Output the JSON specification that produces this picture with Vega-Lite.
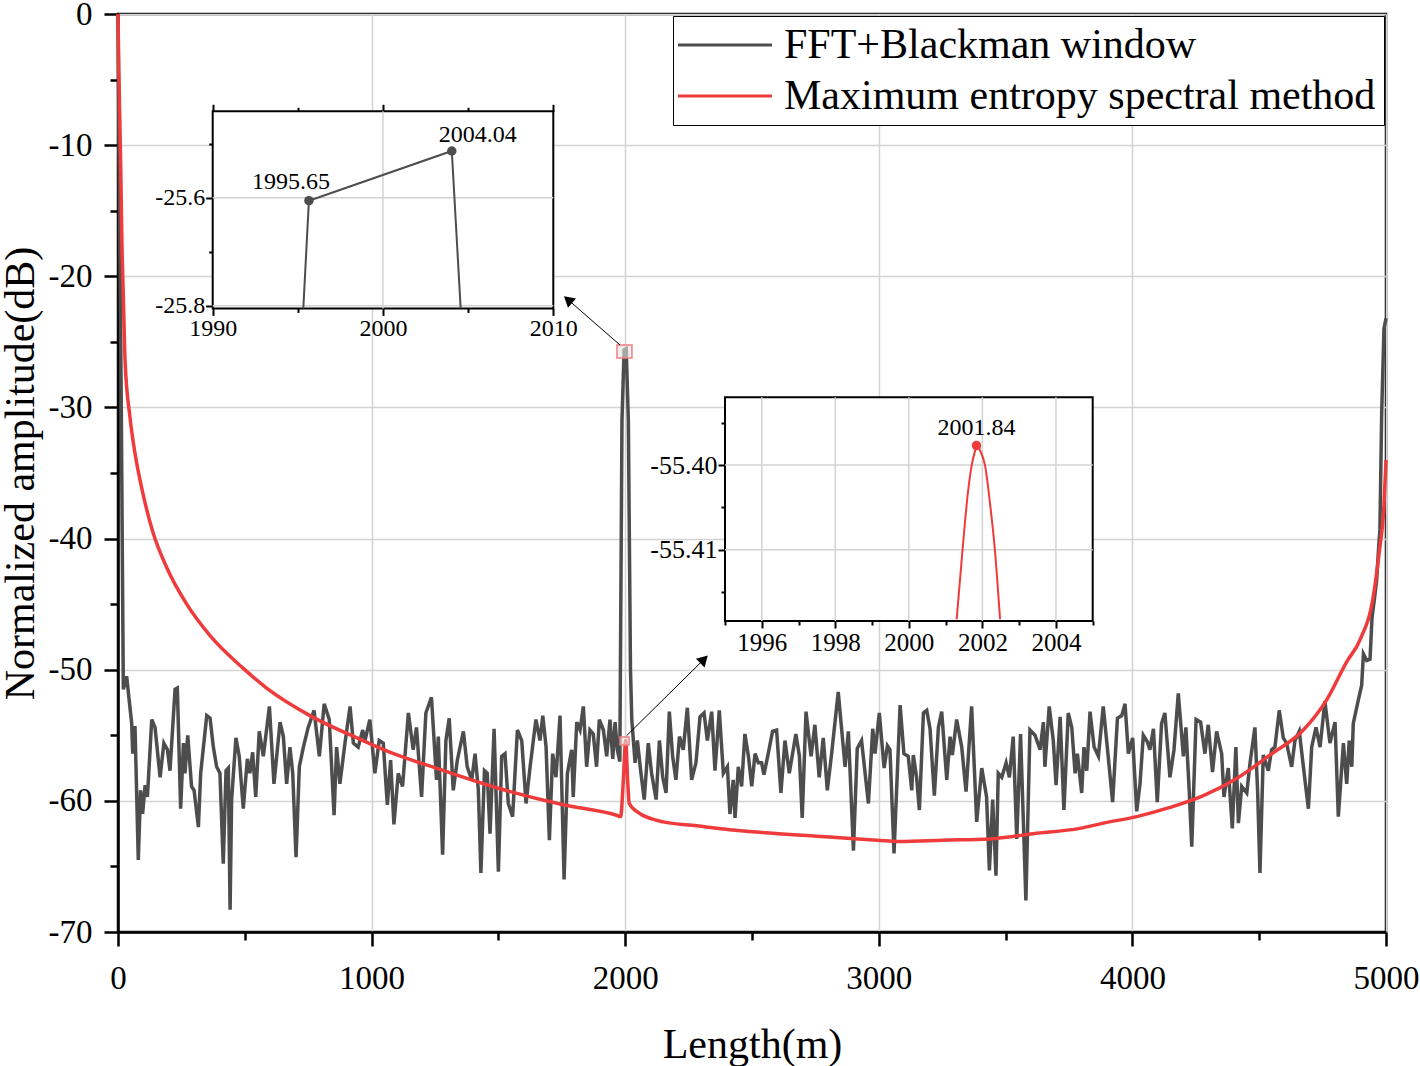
{
  "$schema": "https://vega.github.io/schema/vega-lite/v6.json",
  "width": 1268,
  "height": 918,
  "autosize": "none",
  "padding": {"left": 118, "top": 14, "right": 34, "bottom": 134},
  "background": "white",
  "datasets": {
    "fft": [
      {"x":0,"y":0},{"x":4,"y":-10},{"x":8,"y":-19},{"x":13,"y":-30},{"x":17,"y":-41},{"x":21,"y":-51.5},{"x":34,"y":-50.5},{"x":54,"y":-54.1},{"x":58,"y":-56.4},{"x":67,"y":-54.3},{"x":80,"y":-64.5},{"x":89,"y":-59.2},{"x":97,"y":-61.0},{"x":107,"y":-58.8},{"x":116,"y":-59.7},{"x":133,"y":-53.8},{"x":146,"y":-54.4},{"x":166,"y":-58.2},{"x":181,"y":-55.6},{"x":195,"y":-56.1},{"x":205,"y":-57.7},{"x":225,"y":-51.5},{"x":234,"y":-51.4},{"x":247,"y":-60.6},{"x":258,"y":-55.6},{"x":264,"y":-57.9},{"x":275,"y":-55.0},{"x":290,"y":-58.9},{"x":300,"y":-59.2},{"x":317,"y":-62.0},{"x":326,"y":-57.9},{"x":350,"y":-53.5},{"x":363,"y":-53.7},{"x":376,"y":-55.9},{"x":389,"y":-57.4},{"x":402,"y":-57.9},{"x":415,"y":-64.8},{"x":426,"y":-57.7},{"x":435,"y":-57.5},{"x":442,"y":-68.3},{"x":448,"y":-59.9},{"x":465,"y":-55.2},{"x":478,"y":-56.6},{"x":494,"y":-60.6},{"x":510,"y":-56.8},{"x":520,"y":-57.9},{"x":531,"y":-56.3},{"x":543,"y":-59.7},{"x":557,"y":-54.7},{"x":573,"y":-56.6},{"x":597,"y":-52.8},{"x":615,"y":-58.7},{"x":639,"y":-54.0},{"x":652,"y":-55.1},{"x":665,"y":-58.7},{"x":678,"y":-55.9},{"x":689,"y":-57.9},{"x":702,"y":-64.3},{"x":715,"y":-57.4},{"x":731,"y":-55.9},{"x":750,"y":-54.4},{"x":773,"y":-53.1},{"x":794,"y":-56.6},{"x":813,"y":-52.6},{"x":833,"y":-53.8},{"x":852,"y":-61.1},{"x":862,"y":-55.9},{"x":875,"y":-58.7},{"x":895,"y":-55.6},{"x":915,"y":-52.8},{"x":928,"y":-55.6},{"x":947,"y":-55.9},{"x":965,"y":-54.6},{"x":974,"y":-55.4},{"x":993,"y":-53.8},{"x":1013,"y":-57.9},{"x":1030,"y":-55.4},{"x":1046,"y":-55.6},{"x":1062,"y":-60.3},{"x":1075,"y":-56.9},{"x":1088,"y":-61.8},{"x":1105,"y":-57.9},{"x":1122,"y":-58.9},{"x":1145,"y":-53.3},{"x":1164,"y":-56.1},{"x":1177,"y":-54.4},{"x":1197,"y":-59.7},{"x":1214,"y":-53.3},{"x":1236,"y":-52.1},{"x":1256,"y":-58.4},{"x":1263,"y":-55.1},{"x":1280,"y":-64.1},{"x":1293,"y":-55.4},{"x":1306,"y":-53.7},{"x":1322,"y":-59.2},{"x":1338,"y":-56.9},{"x":1362,"y":-54.7},{"x":1377,"y":-57.4},{"x":1395,"y":-58.4},{"x":1408,"y":-56.4},{"x":1421,"y":-59.2},{"x":1431,"y":-65.5},{"x":1445,"y":-57.7},{"x":1456,"y":-57.9},{"x":1467,"y":-62.5},{"x":1483,"y":-54.5},{"x":1500,"y":-65.4},{"x":1513,"y":-56.6},{"x":1526,"y":-56.4},{"x":1539,"y":-60.2},{"x":1556,"y":-61.2},{"x":1575,"y":-54.6},{"x":1592,"y":-55.4},{"x":1609,"y":-60.2},{"x":1625,"y":-57.4},{"x":1648,"y":-53.8},{"x":1664,"y":-55.4},{"x":1675,"y":-53.5},{"x":1688,"y":-55.9},{"x":1701,"y":-63.0},{"x":1714,"y":-56.4},{"x":1727,"y":-58.2},{"x":1743,"y":-53.5},{"x":1759,"y":-66.0},{"x":1772,"y":-57.9},{"x":1789,"y":-56.1},{"x":1795,"y":-59.7},{"x":1809,"y":-54.0},{"x":1822,"y":-54.6},{"x":1835,"y":-52.8},{"x":1848,"y":-57.4},{"x":1861,"y":-54.6},{"x":1874,"y":-54.9},{"x":1887,"y":-57.4},{"x":1898,"y":-53.8},{"x":1914,"y":-54.6},{"x":1927,"y":-56.6},{"x":1940,"y":-53.8},{"x":1951,"y":-56.8},{"x":1960,"y":-54.0},{"x":1969,"y":-56.1},{"x":1978.87,"y":-57},{"x":1987.26,"y":-31},{"x":1995.65,"y":-25.6056},{"x":2004.04,"y":-25.5135},{"x":2012.43,"y":-31},{"x":2020.82,"y":-50},{"x":2026,"y":-53.8},{"x":2039,"y":-57.1},{"x":2048,"y":-55.4},{"x":2061,"y":-57.7},{"x":2075,"y":-59.9},{"x":2091,"y":-55.6},{"x":2104,"y":-57.9},{"x":2122,"y":-59.9},{"x":2135,"y":-55.4},{"x":2148,"y":-58.2},{"x":2161,"y":-59.4},{"x":2174,"y":-53.2},{"x":2187,"y":-56.6},{"x":2200,"y":-58.4},{"x":2214,"y":-55.1},{"x":2229,"y":-56.1},{"x":2245,"y":-52.9},{"x":2262,"y":-58.4},{"x":2279,"y":-57.1},{"x":2295,"y":-53.6},{"x":2311,"y":-53.3},{"x":2324,"y":-55.4},{"x":2341,"y":-53.2},{"x":2354,"y":-57.7},{"x":2371,"y":-53.1},{"x":2387,"y":-57.9},{"x":2403,"y":-57.4},{"x":2413,"y":-61.0},{"x":2426,"y":-58.4},{"x":2433,"y":-61.3},{"x":2446,"y":-57.4},{"x":2459,"y":-58.9},{"x":2472,"y":-54.9},{"x":2486,"y":-56.6},{"x":2499,"y":-58.9},{"x":2512,"y":-56.4},{"x":2525,"y":-57.1},{"x":2538,"y":-57.1},{"x":2547,"y":-58.0},{"x":2564,"y":-56.4},{"x":2581,"y":-54.7},{"x":2597,"y":-54.6},{"x":2614,"y":-59.4},{"x":2630,"y":-55.4},{"x":2647,"y":-57.9},{"x":2673,"y":-54.9},{"x":2687,"y":-56.6},{"x":2698,"y":-61.3},{"x":2713,"y":-53.2},{"x":2733,"y":-56.6},{"x":2748,"y":-54.2},{"x":2765,"y":-58.2},{"x":2781,"y":-55.2},{"x":2797,"y":-59.2},{"x":2814,"y":-56.4},{"x":2840,"y":-51.7},{"x":2867,"y":-57.4},{"x":2880,"y":-54.7},{"x":2900,"y":-63.8},{"x":2915,"y":-56.0},{"x":2932,"y":-55.4},{"x":2959,"y":-60.2},{"x":2976,"y":-54.5},{"x":2985,"y":-56.4},{"x":3002,"y":-53.3},{"x":3021,"y":-57.5},{"x":3034,"y":-55.8},{"x":3044,"y":-56.1},{"x":3060,"y":-64.0},{"x":3084,"y":-52.7},{"x":3099,"y":-56.4},{"x":3116,"y":-56.6},{"x":3130,"y":-59.2},{"x":3136,"y":-56.5},{"x":3149,"y":-58.2},{"x":3160,"y":-60.7},{"x":3176,"y":-53.3},{"x":3189,"y":-53.1},{"x":3202,"y":-54.5},{"x":3219,"y":-59.6},{"x":3235,"y":-54.4},{"x":3248,"y":-53.2},{"x":3268,"y":-58.4},{"x":3281,"y":-55.1},{"x":3290,"y":-56.5},{"x":3307,"y":-53.8},{"x":3327,"y":-55.9},{"x":3344,"y":-59.3},{"x":3366,"y":-52.8},{"x":3386,"y":-61.6},{"x":3406,"y":-57.5},{"x":3425,"y":-59.7},{"x":3436,"y":-65.3},{"x":3449,"y":-59.9},{"x":3462,"y":-65.7},{"x":3471,"y":-57.9},{"x":3485,"y":-58.2},{"x":3502,"y":-57.1},{"x":3515,"y":-58.2},{"x":3530,"y":-55.1},{"x":3544,"y":-62.9},{"x":3559,"y":-54.9},{"x":3580,"y":-67.6},{"x":3596,"y":-54.6},{"x":3616,"y":-55.0},{"x":3636,"y":-56.1},{"x":3649,"y":-54.0},{"x":3655,"y":-57.4},{"x":3672,"y":-52.8},{"x":3688,"y":-55.4},{"x":3699,"y":-58.8},{"x":3715,"y":-53.6},{"x":3730,"y":-60.7},{"x":3747,"y":-53.3},{"x":3761,"y":-54.4},{"x":3774,"y":-57.9},{"x":3783,"y":-56.4},{"x":3800,"y":-59.4},{"x":3809,"y":-55.9},{"x":3820,"y":-57.7},{"x":3833,"y":-53.2},{"x":3849,"y":-55.9},{"x":3866,"y":-56.6},{"x":3885,"y":-52.8},{"x":3902,"y":-56.1},{"x":3922,"y":-60.1},{"x":3941,"y":-53.7},{"x":3958,"y":-53.5},{"x":3971,"y":-52.6},{"x":3984,"y":-56.4},{"x":4001,"y":-55.2},{"x":4017,"y":-60.8},{"x":4030,"y":-58.7},{"x":4043,"y":-55.0},{"x":4059,"y":-55.5},{"x":4069,"y":-56.1},{"x":4083,"y":-54.5},{"x":4098,"y":-60.1},{"x":4115,"y":-54.1},{"x":4128,"y":-53.3},{"x":4148,"y":-58.2},{"x":4164,"y":-56.1},{"x":4181,"y":-51.8},{"x":4201,"y":-56.6},{"x":4211,"y":-54.4},{"x":4224,"y":-59.2},{"x":4234,"y":-63.5},{"x":4251,"y":-53.8},{"x":4269,"y":-54.0},{"x":4286,"y":-56.4},{"x":4299,"y":-54.2},{"x":4316,"y":-57.8},{"x":4332,"y":-54.7},{"x":4352,"y":-56.4},{"x":4361,"y":-59.7},{"x":4378,"y":-57.5},{"x":4394,"y":-62.1},{"x":4408,"y":-55.9},{"x":4418,"y":-61.7},{"x":4431,"y":-58.9},{"x":4451,"y":-59.4},{"x":4464,"y":-57.1},{"x":4483,"y":-54.4},{"x":4494,"y":-59.4},{"x":4503,"y":-65.5},{"x":4516,"y":-56.5},{"x":4536,"y":-57.7},{"x":4549,"y":-56.1},{"x":4562,"y":-55.9},{"x":4579,"y":-53.1},{"x":4595,"y":-55.2},{"x":4608,"y":-55.6},{"x":4628,"y":-57.4},{"x":4641,"y":-55.4},{"x":4658,"y":-54.7},{"x":4681,"y":-58.5},{"x":4694,"y":-60.6},{"x":4707,"y":-55.9},{"x":4724,"y":-54.4},{"x":4740,"y":-55.9},{"x":4759,"y":-52.4},{"x":4779,"y":-55.6},{"x":4799,"y":-54.0},{"x":4812,"y":-61.2},{"x":4832,"y":-55.6},{"x":4845,"y":-58.7},{"x":4855,"y":-55.4},{"x":4865,"y":-57.4},{"x":4871,"y":-54.1},{"x":4882,"y":-53.1},{"x":4891,"y":-52.3},{"x":4904,"y":-51.2},{"x":4911,"y":-48.8},{"x":4924,"y":-49.3},{"x":4937,"y":-49.2},{"x":4945,"y":-46},{"x":4953,"y":-44.8},{"x":4963,"y":-43.2},{"x":4970,"y":-41},{"x":4976,"y":-39.3},{"x":4983,"y":-30.4},{"x":4992,"y":-24},{"x":5000,"y":-23.2}
    ],
    "mem": [
      {"x":0,"y":0},{"x":3,"y":-4},{"x":7,"y":-8},{"x":11,"y":-12},{"x":15,"y":-17},{"x":21,"y":-21.5},{"x":28,"y":-26.5},{"x":47,"y":-30.7},{"x":67,"y":-33.5},{"x":93,"y":-36.1},{"x":139,"y":-39.6},{"x":192,"y":-42.2},{"x":271,"y":-45.0},{"x":363,"y":-47.4},{"x":494,"y":-49.9},{"x":586,"y":-51.4},{"x":757,"y":-53.5},{"x":954,"y":-55.3},{"x":1100,"y":-56.5},{"x":1270,"y":-57.6},{"x":1493,"y":-59.0},{"x":1756,"y":-60.3},{"x":1966,"y":-61.1},{"x":1982,"y":-61.2},{"x":1993,"y":-58.3},{"x":2001.84,"y":-55.3977},{"x":2010,"y":-58.6},{"x":2016,"y":-60.2},{"x":2045,"y":-60.8},{"x":2150,"y":-61.6},{"x":2282,"y":-61.9},{"x":2413,"y":-62.2},{"x":2532,"y":-62.4},{"x":2755,"y":-62.7},{"x":2992,"y":-63.0},{"x":3084,"y":-63.1},{"x":3254,"y":-63.0},{"x":3438,"y":-62.9},{"x":3609,"y":-62.5},{"x":3793,"y":-62.1},{"x":3885,"y":-61.7},{"x":4017,"y":-61.2},{"x":4148,"y":-60.5},{"x":4280,"y":-59.6},{"x":4411,"y":-58.3},{"x":4543,"y":-56.5},{"x":4674,"y":-54.6},{"x":4766,"y":-52.3},{"x":4845,"y":-49.4},{"x":4898,"y":-47.7},{"x":4950,"y":-44.4},{"x":4976,"y":-40.6},{"x":4990,"y":-38.1},{"x":5000,"y":-34}
    ]
  },
  "resolve": {"scale": {"x": "independent", "y": "independent"}},
  "layer": [
    {
      "data": {"name": "fft"},
      "mark": {"type": "line", "strokeWidth": 3.5},
      "encoding": {
        "x": {"field": "x", "type": "quantitative", "scale": {"domain": [0, 5000], "nice": false, "zero": false},
          "axis": {"orient": "bottom", "title": "Length(m)", "values": [0,500,1000,1500,2000,2500,3000,3500,4000,4500,5000], "format": "d",
            "labelExpr": "datum.value % 1000 == 0 ? datum.label : ''",
            "tickSize": {"condition": {"test": "datum.value % 1000 == 0", "value": 14}, "value": 8},
            "gridOpacity": {"condition": {"test": "datum.value % 1000 == 0", "value": 1}, "value": 0},
            "grid": true, "labelPadding": 16, "titlePadding": 29}},
        "y": {"field": "y", "type": "quantitative", "scale": {"domain": [-70, 0], "nice": false, "zero": false},
          "axis": {"orient": "left", "title": "Normalized amplitude(dB)", "values": [-70,-65,-60,-55,-50,-45,-40,-35,-30,-25,-20,-15,-10,-5,0], "format": "d",
            "labelExpr": "datum.value % 10 == 0 ? replace(datum.label, '\u2212', '-') : ''",
            "tickSize": {"condition": {"test": "datum.value % 10 == 0", "value": 14}, "value": 8},
            "gridOpacity": {"condition": {"test": "datum.value % 10 == 0", "value": 1}, "value": 0},
            "grid": true, "labelPadding": 12, "titlePadding": 6}},
        "color": {"datum": "FFT+Blackman window", "type": "nominal",
          "scale": {"domain": ["FFT+Blackman window", "Maximum entropy spectral method"], "range": ["#4d4d4d", "#ef3b3b"]},
          "legend": {"title": null}}
      }
    },
    {
      "data": {"name": "mem"},
      "mark": {"type": "line", "strokeWidth": 3.5, "interpolate": "monotone"},
      "encoding": {
        "x": {"field": "x", "type": "quantitative", "scale": {"domain": [0, 5000], "nice": false, "zero": false}, "axis": null},
        "y": {"field": "y", "type": "quantitative", "scale": {"domain": [-70, 0], "nice": false, "zero": false}, "axis": null},
        "color": {"datum": "Maximum entropy spectral method", "type": "nominal"}
      }
    },
    {
      "data": {"values": [
        {"x": 1967.5, "x2": 2026.6, "y": -25.24, "y2": -26.23},
        {"x": 1979.5, "x2": 2015, "y": -55.13, "y2": -55.74}
      ]},
      "mark": {"type": "rect", "fill": "#e4e4e4", "fillOpacity": 0.6, "stroke": "#f08080", "strokeWidth": 1.5},
      "encoding": {
        "x": {"field": "x", "type": "quantitative", "scale": {"domain": [0, 5000], "nice": false, "zero": false}, "axis": null},
        "x2": {"field": "x2"},
        "y": {"field": "y", "type": "quantitative", "scale": {"domain": [-70, 0], "nice": false, "zero": false}, "axis": null},
        "y2": {"field": "y2"}
      }
    },
    {
      "data": {"values": [
        {"x": 1979.5, "y": -25.24, "x2": 1774.4, "y2": -21.78},
        {"x": 2005.5, "y": -55.03, "x2": 2310.7, "y2": -49.21}
      ]},
      "mark": {"type": "rule", "color": "black", "strokeWidth": 1},
      "encoding": {
        "x": {"field": "x", "type": "quantitative", "scale": {"domain": [0, 5000], "nice": false, "zero": false}, "axis": null},
        "x2": {"field": "x2"},
        "y": {"field": "y", "type": "quantitative", "scale": {"domain": [-70, 0], "nice": false, "zero": false}, "axis": null},
        "y2": {"field": "y2"}
      }
    },
    {
      "data": {"values": [{"x": 1774.4, "y": -21.78}]},
      "mark": {"type": "point", "shape": "triangle-up", "filled": true, "color": "black", "opacity": 1, "size": 150, "angle": 311},
      "encoding": {
        "x": {"field": "x", "type": "quantitative", "scale": {"domain": [0, 5000], "nice": false, "zero": false}, "axis": null},
        "y": {"field": "y", "type": "quantitative", "scale": {"domain": [-70, 0], "nice": false, "zero": false}, "axis": null}
      }
    },
    {
      "data": {"values": [{"x": 2310.7, "y": -49.21}]},
      "mark": {"type": "point", "shape": "triangle-up", "filled": true, "color": "black", "opacity": 1, "size": 150, "angle": 45},
      "encoding": {
        "x": {"field": "x", "type": "quantitative", "scale": {"domain": [0, 5000], "nice": false, "zero": false}, "axis": null},
        "y": {"field": "y", "type": "quantitative", "scale": {"domain": [-70, 0], "nice": false, "zero": false}, "axis": null}
      }
    },
    {
      "data": {"values": [{"x": 1990, "x2": 2010, "y": -25.805, "y2": -25.44}]},
      "mark": {"type": "rect", "fill": "white", "stroke": "black", "strokeWidth": 2},
      "encoding": {
        "x": {"field": "x", "type": "quantitative", "scale": {"domain": [1990, 2010], "range": [94.7, 435.3], "nice": false, "zero": false},
          "axis": {"orient": "bottom", "offset": -623.6, "title": null, "grid": false, "domain": false, "values": [1990,1995,2000,2005,2010], "format": "d",
            "labelExpr": "datum.value % 10 == 0 ? datum.label : ''",
            "tickSize": {"condition": {"test": "datum.value % 10 == 0", "value": 7}, "value": 4},
            "tickWidth": 2, "labelFontSize": 24, "labelPadding": 1}},
        "x2": {"field": "x2"},
        "y": {"field": "y", "type": "quantitative", "scale": {"domain": [-25.805, -25.44], "range": [294.4, 97.3], "nice": false, "zero": false},
          "axis": {"orient": "left", "offset": -94.7, "title": null, "grid": false, "domain": false, "values": [-25.8,-25.7,-25.6,-25.5],
            "labelExpr": "abs(round(datum.value*10)) % 2 == 0 ? replace(format(datum.value, '.1f'), '\u2212', '-') : ''",
            "tickSize": {"condition": {"test": "abs(round(datum.value*10)) % 2 == 0", "value": 7}, "value": 4},
            "tickWidth": 2, "labelFontSize": 24, "labelPadding": 1}},
        "y2": {"field": "y2"}
      }
    },
    {
      "data": {"values": [
        {"x": 2000, "x2": 2000, "y": -25.805, "y2": -25.44},
        {"x": 1990, "x2": 2010, "y": -25.6, "y2": -25.6},
        {"x": 1990, "x2": 2010, "y": -25.8, "y2": -25.8}
      ]},
      "mark": {"type": "rule", "color": "#d3d3d3", "strokeWidth": 1.5},
      "encoding": {
        "x": {"field": "x", "type": "quantitative", "scale": {"domain": [1990, 2010], "range": [94.7, 435.3], "nice": false, "zero": false},
          "axis": {"orient": "top", "offset": -97.3, "title": null, "grid": false, "domain": false, "labels": false, "values": [1990,1995,2000,2005,2010],
            "tickSize": {"condition": {"test": "datum.value % 10 == 0", "value": 7}, "value": 4}, "tickWidth": 2}},
        "x2": {"field": "x2"},
        "y": {"field": "y", "type": "quantitative", "scale": {"domain": [-25.805, -25.44], "range": [294.4, 97.3], "nice": false, "zero": false}, "axis": null},
        "y2": {"field": "y2"}
      }
    },
    {
      "data": {"values": [
        {"x": 1995.32, "y": -25.805}, {"x": 1995.65, "y": -25.6056}, {"x": 2004.04, "y": -25.5135}, {"x": 2004.56, "y": -25.805}
      ]},
      "mark": {"type": "line", "color": "#4d4d4d", "strokeWidth": 2},
      "encoding": {
        "x": {"field": "x", "type": "quantitative", "scale": {"domain": [1990, 2010], "range": [94.7, 435.3], "nice": false, "zero": false}, "axis": null},
        "y": {"field": "y", "type": "quantitative", "scale": {"domain": [-25.805, -25.44], "range": [294.4, 97.3], "nice": false, "zero": false}, "axis": null}
      }
    },
    {
      "data": {"values": [{"x": 1995.65, "y": -25.6056}, {"x": 2004.04, "y": -25.5135}]},
      "mark": {"type": "point", "filled": true, "color": "#4d4d4d", "opacity": 1, "size": 90},
      "encoding": {
        "x": {"field": "x", "type": "quantitative", "scale": {"domain": [1990, 2010], "range": [94.7, 435.3], "nice": false, "zero": false}, "axis": null},
        "y": {"field": "y", "type": "quantitative", "scale": {"domain": [-25.805, -25.44], "range": [294.4, 97.3], "nice": false, "zero": false}, "axis": null}
      }
    },
    {
      "data": {"values": [{"x": 1995.65, "y": -25.6056, "t": "1995.65"}]},
      "mark": {"type": "text", "font": "Liberation Serif", "fontSize": 24, "color": "black", "align": "center", "baseline": "alphabetic", "dx": -18, "dy": -12},
      "encoding": {
        "x": {"field": "x", "type": "quantitative", "scale": {"domain": [1990, 2010], "range": [94.7, 435.3], "nice": false, "zero": false}, "axis": null},
        "y": {"field": "y", "type": "quantitative", "scale": {"domain": [-25.805, -25.44], "range": [294.4, 97.3], "nice": false, "zero": false}, "axis": null},
        "text": {"field": "t"}
      }
    },
    {
      "data": {"values": [{"x": 2004.04, "y": -25.5135, "t": "2004.04"}]},
      "mark": {"type": "text", "font": "Liberation Serif", "fontSize": 24, "color": "black", "align": "center", "baseline": "alphabetic", "dx": 26, "dy": -9},
      "encoding": {
        "x": {"field": "x", "type": "quantitative", "scale": {"domain": [1990, 2010], "range": [94.7, 435.3], "nice": false, "zero": false}, "axis": null},
        "y": {"field": "y", "type": "quantitative", "scale": {"domain": [-25.805, -25.44], "range": [294.4, 97.3], "nice": false, "zero": false}, "axis": null},
        "text": {"field": "t"}
      }
    },
    {
      "data": {"values": [{"x": 1995, "x2": 2005, "y": -55.4184, "y2": -55.392}]},
      "mark": {"type": "rect", "fill": "white", "stroke": "black", "strokeWidth": 2},
      "encoding": {
        "x": {"field": "x", "type": "quantitative", "scale": {"domain": [1995, 2005], "range": [607, 974.7], "nice": false, "zero": false},
          "axis": {"orient": "bottom", "offset": -311, "title": null, "grid": false, "domain": false, "values": [1995,1996,1997,1998,1999,2000,2001,2002,2003,2004,2005], "format": "d",
            "labelExpr": "datum.value % 2 == 0 ? datum.label : ''",
            "tickSize": {"condition": {"test": "datum.value % 2 == 0", "value": 7}, "value": 4},
            "tickWidth": 2, "labelFontSize": 25, "labelPadding": 2}},
        "x2": {"field": "x2"},
        "y": {"field": "y", "type": "quantitative", "scale": {"domain": [-55.4184, -55.392], "range": [607, 383.3], "nice": false, "zero": false},
          "axis": {"orient": "left", "offset": -607, "title": null, "grid": false, "domain": false, "values": [-55.415,-55.41,-55.405,-55.4,-55.395],
            "labelExpr": "abs(round(datum.value*1000)) % 10 == 0 ? replace(format(datum.value, '.2f'), '\u2212', '-') : ''",
            "tickSize": {"condition": {"test": "abs(round(datum.value*1000)) % 10 == 0", "value": 7}, "value": 4},
            "tickWidth": 2, "labelFontSize": 26, "labelPadding": 1}},
        "y2": {"field": "y2"}
      }
    },
    {
      "data": {"values": [
        {"x": 1996, "x2": 1996, "y": -55.4184, "y2": -55.392},
        {"x": 1998, "x2": 1998, "y": -55.4184, "y2": -55.392},
        {"x": 2000, "x2": 2000, "y": -55.4184, "y2": -55.392},
        {"x": 2002, "x2": 2002, "y": -55.4184, "y2": -55.392},
        {"x": 2004, "x2": 2004, "y": -55.4184, "y2": -55.392},
        {"x": 1995, "x2": 2005, "y": -55.40, "y2": -55.40},
        {"x": 1995, "x2": 2005, "y": -55.41, "y2": -55.41}
      ]},
      "mark": {"type": "rule", "color": "#d3d3d3", "strokeWidth": 1.5},
      "encoding": {
        "x": {"field": "x", "type": "quantitative", "scale": {"domain": [1995, 2005], "range": [607, 974.7], "nice": false, "zero": false}, "axis": null},
        "x2": {"field": "x2"},
        "y": {"field": "y", "type": "quantitative", "scale": {"domain": [-55.4184, -55.392], "range": [607, 383.3], "nice": false, "zero": false}, "axis": null},
        "y2": {"field": "y2"}
      }
    },
    {
      "data": {"values": [
        {"x": 2001.30, "y": -55.4182}, {"x": 2001.46, "y": -55.41}, {"x": 2001.60, "y": -55.4035}, {"x": 2001.71, "y": -55.40}, {"x": 2001.79, "y": -55.3985},
        {"x": 2001.86, "y": -55.3977}, {"x": 2001.95, "y": -55.3984}, {"x": 2002.07, "y": -55.40}, {"x": 2002.22, "y": -55.405}, {"x": 2002.34, "y": -55.41}, {"x": 2002.48, "y": -55.4182}
      ]},
      "mark": {"type": "line", "color": "#ef3b3b", "strokeWidth": 2, "interpolate": "monotone"},
      "encoding": {
        "x": {"field": "x", "type": "quantitative", "scale": {"domain": [1995, 2005], "range": [607, 974.7], "nice": false, "zero": false}, "axis": null},
        "y": {"field": "y", "type": "quantitative", "scale": {"domain": [-55.4184, -55.392], "range": [607, 383.3], "nice": false, "zero": false}, "axis": null}
      }
    },
    {
      "data": {"values": [{"x": 2001.84, "y": -55.3977, "t": "2001.84"}]},
      "layer": [
        {"mark": {"type": "point", "filled": true, "color": "#ef3b3b", "opacity": 1, "size": 90}},
        {"mark": {"type": "text", "font": "Liberation Serif", "fontSize": 24, "color": "black", "align": "center", "baseline": "alphabetic", "dy": -11},
         "encoding": {"text": {"field": "t"}}}
      ],
      "encoding": {
        "x": {"field": "x", "type": "quantitative", "scale": {"domain": [1995, 2005], "range": [607, 974.7], "nice": false, "zero": false}, "axis": null},
        "y": {"field": "y", "type": "quantitative", "scale": {"domain": [-55.4184, -55.392], "range": [607, 383.3], "nice": false, "zero": false}, "axis": null}
      }
    }
  ],
  "config": {
    "view": {"stroke": "black", "strokeWidth": 2.5},
    "font": "Liberation Serif",
    "axis": {
      "labelFont": "Liberation Serif", "titleFont": "Liberation Serif",
      "labelFontSize": 33, "titleFontSize": 42, "titleFontWeight": "normal",
      "labelColor": "black", "titleColor": "black", "labelFlush": false,
      "domainColor": "black", "domainWidth": 2.5,
      "tickColor": "black", "tickWidth": 2.5,
      "gridColor": "#d3d3d3", "gridWidth": 1.5
    },
    "legend": {
      "orient": "top-right", "offset": 2,
      "strokeColor": "black", "fillColor": "white", "padding": 8, "rowPadding": 9,
      "labelFont": "Liberation Serif", "labelFontSize": 42, "labelColor": "black", "labelLimit": 1000,
      "symbolType": "M-4,0H4", "symbolSize": 552, "symbolStrokeWidth": 3, "symbolOffset": 23, "labelOffset": 38
    }
  }
}
